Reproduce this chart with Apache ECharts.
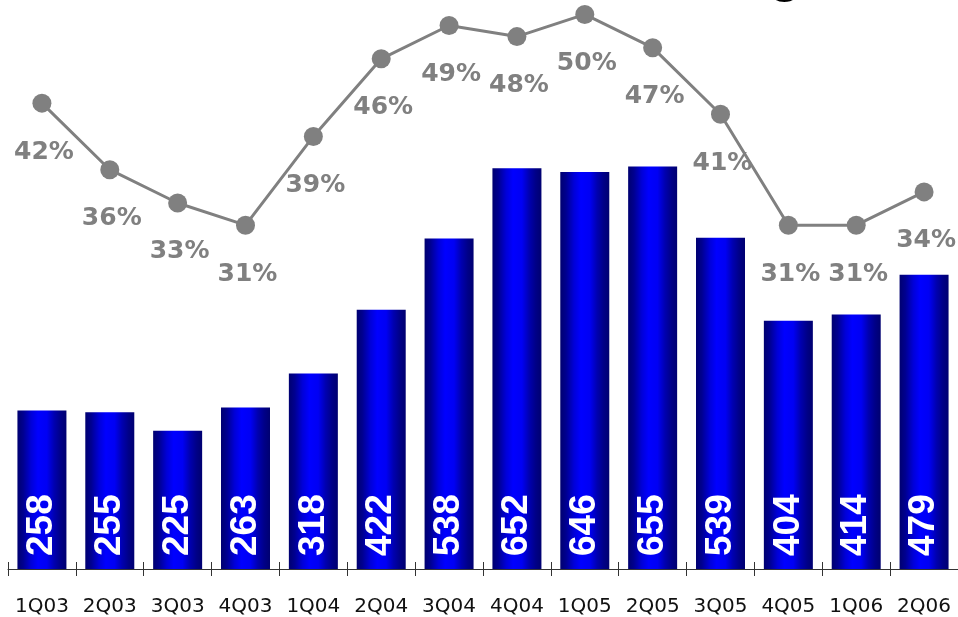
<!DOCTYPE html>
<html>
<head>
<meta charset="utf-8">
<style>
html,body{margin:0;padding:0;background:#fff;}
#chart{width:958px;height:617px;}
</style>
<script src="https://cdn.jsdelivr.net/npm/echarts@6/dist/echarts.min.js"></script>
</head>
<body>
<div id="chart"></div>
<script>
var categories = ['1Q03','2Q03','3Q03','4Q03','1Q04','2Q04','3Q04','4Q04','1Q05','2Q05','3Q05','4Q05','1Q06','2Q06'];
var barValues = [258,255,225,263,318,422,538,652,646,655,539,404,414,479];
var pctValues = [42,36,33,31,39,46,49,48,50,47,41,31,31,34];

var chart = echarts.init(document.getElementById('chart'), null, {renderer:'canvas'});
var barGradient = new echarts.graphic.LinearGradient(0,0,1,0,[
  {offset:0, color:'#000070'},
  {offset:0.12, color:'#000090'},
  {offset:0.28, color:'#0000D8'},
  {offset:0.42, color:'#0000FF'},
  {offset:0.6, color:'#0000F4'},
  {offset:0.75, color:'#0000B0'},
  {offset:0.88, color:'#000088'},
  {offset:1, color:'#000070'}
]);

chart.setOption({
  animation:false,
  backgroundColor:'#ffffff',
  grid:{left:8, top:0, width:955, height:569.3, containLabel:false},
  graphic:[{
    type:'text', x:785, y:3,
    style:{text:'g', font:'bold 54px "Liberation Sans"', fill:'#000', align:'center', verticalAlign:'bottom'}
  }],
  xAxis:[{
    type:'category', data:categories, position:'bottom',
    axisLine:{show:true, lineStyle:{color:'#333', width:1}},
    axisTick:{show:true, interval:0, length:7, lineStyle:{color:'#333', width:1}},
    axisLabel:{interval:0, color:'#111', fontFamily:'DejaVu Sans', fontSize:20, margin:28}
  },{
    type:'category', data:categories, position:'bottom', offset:0,
    axisLine:{show:false},
    axisTick:{show:true, interval:0, inside:true, length:7, lineStyle:{color:'#333', width:1}},
    axisLabel:{show:false}
  }],
  yAxis:[{
    type:'value', min:0, max:926, show:false, splitLine:{show:false}
  },{
    type:'value', min:0, max:51.3, show:false, splitLine:{show:false}
  }],
  series:[{
    type:'bar', data:barValues, barWidth:49, xAxisIndex:0, yAxisIndex:0,
    itemStyle:{color:barGradient},
    label:{show:true, position:'insideBottom', rotate:90, align:'left', verticalAlign:'middle', distance:13,
      color:'#fff', fontFamily:'Liberation Sans', fontWeight:'bold', fontSize:37}
  },{
    type:'line', data:pctValues, xAxisIndex:0, yAxisIndex:1,
    symbol:'circle', symbolSize:19,
    lineStyle:{color:'#808080', width:3},
    itemStyle:{color:'#808080'},
    label:{show:true, position:'inside', offset:[2,49], formatter:'{c}%',
      color:'#808080', fontFamily:'DejaVu Sans', fontWeight:'bold', fontSize:25}
  }]
});
</script>
</body>
</html>
